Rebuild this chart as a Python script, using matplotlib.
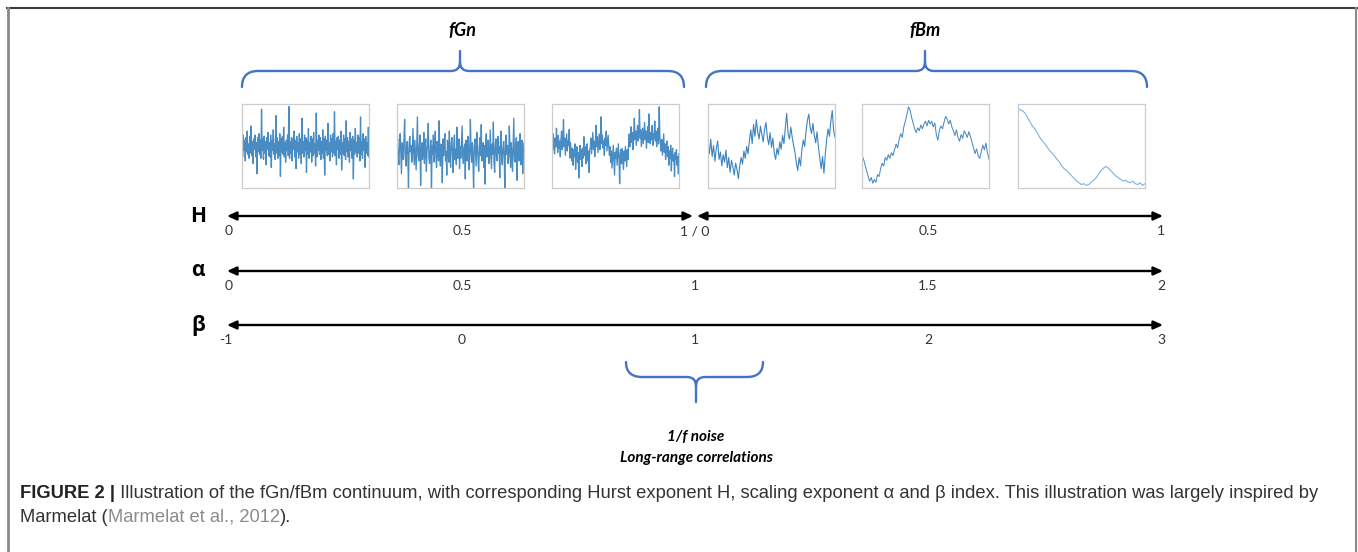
import numpy as np
import matplotlib
matplotlib.use('Agg')
import matplotlib.pyplot as plt
from matplotlib.path import Path
from matplotlib.patches import PathPatch

# Series shown in the six small panels
fgn_low = [0.6, -0.8, 0.9, -0.3, 0.5, -1.1, 0.7, -0.4, 1.2, -0.6, 0.2, -0.9, 0.8, -0.5, 1.6, -0.7, 0.4, -1.3, 0.6, -0.2,
           0.9, -0.8, 0.3, -2.1, 0.7, -0.4, 1.0, -0.6, 0.5, -0.9, 2.9, -0.3, 0.6, -1.0, 0.8, -0.5, 0.4, -1.4, 0.7, -0.2,
           1.1, -0.7, 0.3, -0.8, 0.9, -1.6, 0.5, -0.3, 1.3, -0.6, 0.2, -1.0, 2.4, -0.5, 0.7, -0.9, 0.4, -0.7, 1.0, -2.3,
           0.6, -0.4, 0.8, -0.6, 1.5, -0.8, 0.3, -1.2, 0.5, -0.3, 0.9, -0.7, 3.1, -0.9, 0.4, -0.5, 0.7, -1.1, 0.6, -0.2,
           1.2, -0.8, 0.5, -1.7, 0.8, -0.4, 0.3, -0.9, 1.0, -0.6, 0.6, -1.3, 2.2, -0.5, 0.4, -0.8, 0.9, -0.3, 0.7, -2.0,
           0.5, -0.6, 1.4, -0.9, 0.3, -0.4, 0.8, -1.2, 0.6, -0.7, 1.1, -0.5, 0.2, -1.5, 2.6, -0.8, 0.5, -0.3, 0.9, -0.6,
           0.7, -1.0, 0.4, -0.5, 1.3, -0.9, 0.6, -2.2, 0.8, -0.3, 0.5, -0.7, 1.8, -0.6, 0.3, -1.1, 0.9, -0.4, 0.6, -0.8,
           1.0, -0.5, 2.7, -0.7, 0.4, -1.4, 0.7, -0.2, 0.8, -0.9, 0.5, -0.6, 1.2, -1.8, 0.3, -0.5, 0.9, -0.7, 0.6, -1.0,
           2.0, -0.4, 0.7, -0.8, 0.4, -1.2, 1.1, -0.3, 0.6, -0.9, 0.8, -2.5, 0.5, -0.6, 1.4, -0.4, 0.3, -0.8, 0.9, -0.5,
           0.7, -1.1, 2.3, -0.6, 0.4, -0.9, 1.0, -0.3, 0.6, -1.6, 0.8, -0.5, 0.3, -0.7, 1.5, -0.8]
fgn_mid = [0.3, 0.9, -0.5, -1.1, 0.4, 1.3, -0.2, -1.8, 0.6, 0.1, -0.7, 1.0, 2.4, -0.4, -1.2, 0.2, 0.7, -0.5, -2.9, 0.5,
           1.1, -0.1, 0.4, -0.9, -0.6, 1.7, 0.2, -1.1, 0.8, -0.3, -1.5, 0.5, 2.6, -0.4, -0.8, 0.3, 1.2, -2.7, 0.1, 0.6,
           -0.7, -0.2, 1.4, -1.0, 0.3, 0.9, -1.6, -0.1, 0.5, 2.1, -0.6, -1.0, 0.1, 0.8, -3.2, 0.4, -0.3, 1.2, -0.9, 0.2,
           1.5, -0.5, -1.3, 0.7, 0.3, -0.8, 2.3, -0.3, -1.2, 0.5, 0.0, -2.5, 0.9, -0.4, 0.6, 1.3, -0.8, -0.1, -1.9, 0.8,
           0.3, -0.9, 1.5, -0.5, -1.3, 0.6, 1.0, -0.2, -1.7, 0.4, 1.2, -0.7, 0.1, -1.1, 1.8, -0.6, -0.3, 0.9, -1.4, 0.3,
           -0.6, 0.7, 1.9, -0.4, -1.0, 0.2, 0.5, -2.2, 0.8, -0.1, -0.8, 1.1, 0.4, -1.5, -0.3, 2.4, 0.1, -0.9, 0.6, -0.5,
           -3.0, 0.3, 0.9, -0.2, -1.2, 1.4, 0.5, -0.7, -1.6, 0.2, 1.0, -0.4, 2.0, -0.8, -0.2, 0.6, -1.3, 0.4, -2.6, 0.7,
           1.3, -0.5, -0.1, 0.8, -1.0, -0.6, 1.6, 0.2, -1.4, 0.5, -0.3, 2.2, -0.9, -1.7, 0.4, 0.9, -0.4, -0.8, 1.1, -0.2,
           0.3, -2.1, 0.6, 1.5, -0.6, -1.1, 0.2, 0.7, -0.5, -3.1, 0.8, 1.2, -0.3, 0.4, -1.0, -0.5, 1.9, 0.1, -1.3, 0.6,
           -0.2, -1.6, 0.5, 2.5, -0.7, -0.9, 0.3, 1.0, -2.3, 0.2, 0.7, -0.8, -0.1, 1.3, -1.1, 0.4, 0.8, -1.8, 0.0, 0.6]
fgn_high = [0.9, 0.2, 1.3, 0.5, -0.1, 1.0, 0.4, 1.7, 0.6, 0.0, 1.2, 0.3, 0.8, -0.3, 0.9, 1.5, 0.2, 0.7, 2.3, 0.4,
            1.0, -0.2, 0.6, 1.3, 0.1, 0.8, 0.5, 1.6, -0.4, 0.7,
            0.1, -0.6, 0.3, -0.9, 0.2, -0.3, 0.6, -1.2, -0.1, 0.4, -0.7, 0.0, -1.8, -0.2, 0.5, -0.5, 0.2, -1.0, 0.3, -0.4,
            1.1, -0.2, 0.4, -0.8, -0.3, 0.6, -0.6, 0.1, -1.4, 0.2,
            0.3, 1.0, -0.1, 0.6, 1.4, 0.2, 0.8, -0.3, 0.5, 1.9, 0.4, 1.1, 0.0, 0.7, 1.3, 0.2, 0.9, 2.5, 0.6, 1.2,
            0.3, 0.8, -0.2, 1.0, 0.5, 1.5, 0.1, 0.7, 1.2, 0.4,
            -0.2, 0.4, -0.7, 0.1, -1.1, -0.3, 0.5, -0.6, -1.6, 0.0, -0.4, 0.3, -0.9, -0.2, 0.6, -0.5, -2.2, -0.1, 0.2, -0.8,
            0.3, -0.4, -1.2, 0.1, -0.6, 0.4, -0.3, -1.0, 0.2, -0.5,
            0.6, 1.3, 0.4, 1.0, 1.8, 0.7, 1.4, 0.2, 1.1, 2.4, 0.9, 1.5, 0.5, 1.2, 1.9, 0.8, 1.3, 3.0, 1.0, 1.6,
            0.4, 1.1, 1.7, 0.6, 1.4, 2.1, 0.9, 1.5, 0.3, 1.2, 1.8, 0.7, 2.7, 1.1, 0.6, 1.4, 0.9, 1.9, 0.5, 1.3,
            1.0, 2.2, 0.8, 1.5, 0.4, 1.2, 1.7, 0.6, 3.2, 1.1,
            0.7, 0.1, 0.9, -0.2, 0.5, 1.3, 0.0, 0.6, -0.5, 0.3, 0.8, -0.3, 0.4, -0.9, 0.1, -0.4, 0.5, -1.3, -0.1, 0.3,
            -0.6, -0.2, -1.7, 0.0, -0.5, 0.2, -0.9, -0.3, -1.5, -0.1]
fbm_low = [5.5, 4.2, 5.8, 3.9, 5.1, 3.4, 4.8, 5.6, 3.6, 4.4, 2.9, 4.1, 3.3, 4.6, 2.7, 3.8,
           2.2, 3.5, 2.8, 1.9, 3.2, 2.5, 1.5, 2.9, 3.8, 3.1, 4.5, 3.7, 5.0, 4.2, 5.6, 6.8,
           5.3, 7.4, 6.1, 7.9, 6.6, 5.8, 7.2, 6.3, 5.5, 6.9, 7.6, 6.0, 5.2, 6.5, 4.9, 5.9,
           4.3, 3.6, 4.8, 4.1, 5.5, 4.7, 6.2, 5.3, 7.0, 8.6, 6.4, 5.8, 7.1, 6.0, 5.1, 4.4,
           3.2, 2.4, 3.8, 2.9, 4.6, 5.7, 5.0, 6.6, 7.8, 8.5, 7.1, 6.4, 7.5, 6.2, 5.4, 6.6,
           4.9, 3.7, 2.6, 3.9, 2.1, 4.2, 5.8, 6.9, 6.1, 7.7, 8.9, 6.7, 6.0]
fbm_mid = [4.2, 3.8, 3.2, 2.6, 2.0, 1.5, 1.9, 1.3, 1.7, 1.4, 2.2, 2.0, 2.8, 3.4, 3.1, 4.0,
           3.7, 4.3, 3.9, 4.5, 4.2, 4.8, 5.4, 5.0, 5.9, 6.5, 6.1, 7.2, 7.8, 8.5, 9.3, 9.0,
           8.2, 7.6, 7.0, 6.6, 7.1, 6.8, 7.4, 7.0, 7.5, 7.8, 7.3, 7.9, 7.5, 7.8, 7.2, 7.6,
           6.4, 5.8, 6.9, 7.3, 7.0, 7.7, 8.3, 8.0, 7.5, 7.9, 7.2, 6.8, 6.3, 6.9, 6.1, 5.7,
           6.4, 6.0, 6.8, 6.5, 6.1, 6.7, 6.2, 5.6, 5.0, 4.4, 4.9, 4.2, 3.9, 4.6, 5.3, 4.8,
           5.5, 4.5, 3.8]
fbm_high = [9.4, 9.2, 9.1, 8.8, 8.3, 7.8, 7.3, 7.0, 6.5, 6.0, 5.6, 5.3, 4.9, 4.5, 4.2, 3.9,
            3.5, 3.2, 2.7, 2.4, 2.2, 1.9, 1.6, 1.3, 1.0, 0.8, 0.6, 0.7, 0.5, 0.6, 0.9, 1.1,
            1.4, 1.8, 2.2, 2.5, 2.7, 2.5, 2.2, 1.9, 1.6, 1.4, 1.2, 1.0, 1.1, 0.9, 0.8, 1.0,
            0.7, 0.6, 0.8, 0.5, 0.7]

# Scales along the continuum (positions given in alpha units)
alpha_vals = [0, 0.5, 1, 1.5, 2]
H_labels = ['0', '0.5', '1 / 0', '0.5', '1']
alpha_labels = ['0', '0.5', '1', '1.5', '2']
beta_labels = ['-1', '0', '1', '2', '3']

W, Hpx = 1358, 552
fig = plt.figure(figsize=(W / 100, Hpx / 100), dpi=100)
ax = fig.add_axes([0, 0, 1, 1])
ax.set_xlim(0, W)
ax.set_ylim(Hpx, 0)
ax.axis('off')

blue = '#4472c4'
lato = ['Lato', 'DejaVu Sans']

# outer frame (top, left, right)
ax.plot([7, W], [8, 8], color='#3c3c3c', lw=1.5)
ax.plot([7.5, 7.5], [8, Hpx], color='#8a8a8a', lw=2)
ax.plot([1355.5, 1355.5], [8, Hpx], color='#8a8a8a', lw=1.5)


def brace(x0, x1, xc, y_end, y_bar, y_tip):
    s = np.sign(y_end - y_bar)
    r = 16
    verts = [(x0, y_end), (x0, y_bar), (x0 + r, y_bar),
             (xc - 9, y_bar), (xc, y_bar), (xc, y_bar - s * 9), (xc, y_tip),
             (xc, y_bar - s * 9), (xc, y_bar), (xc + 9, y_bar),
             (x1 - r, y_bar), (x1, y_bar), (x1, y_end)]
    codes = [Path.MOVETO, Path.CURVE3, Path.CURVE3,
             Path.LINETO, Path.CURVE3, Path.CURVE3, Path.LINETO,
             Path.MOVETO, Path.CURVE3, Path.CURVE3,
             Path.LINETO, Path.CURVE3, Path.CURVE3]
    ax.add_patch(PathPatch(Path(verts, codes), fill=False, edgecolor=blue, lw=1.7,
                           capstyle='round', joinstyle='round'))


brace(242, 684, 460, 87, 71, 51)
brace(706, 1147, 925, 87, 71, 51)
brace(626, 763, 696, 362, 377, 402)

ax.text(462, 31, 'fGn', ha='center', va='center', fontsize=13, fontweight='bold',
        fontstyle='italic', family=lato)
ax.text(925, 31, 'fBm', ha='center', va='center', fontsize=13, fontweight='bold',
        fontstyle='italic', family=lato)
ax.text(696, 437, '1/f noise', ha='center', va='center', fontsize=11, fontweight='bold',
        fontstyle='italic', family=lato)
ax.text(696, 458, 'Long-range correlations', ha='center', va='center', fontsize=11,
        fontweight='bold', fontstyle='italic', family=lato)

# small signal panels
series = [fgn_low, fgn_mid, fgn_high, fbm_low, fbm_mid, fbm_high]
ylims = [(-3.2, 3.3), (-2.9, 3.6), (-2.5, 3.4), (0.5, 9.6), (0.8, 9.6), (0.2, 9.9)]
widths = [0.95, 0.95, 0.95, 0.8, 0.75, 0.8]
alphas = [0.8, 0.8, 0.8, 0.85, 0.8, 0.55]
lefts = [242, 397, 552, 708, 862, 1018]
for vals, yl, lw_, al, left in zip(series, ylims, widths, alphas, lefts):
    pax = fig.add_axes([left / W, 1 - 188 / Hpx, 127 / W, 84 / Hpx])
    pax.plot(np.arange(len(vals)), vals, color='#1a6fb5', lw=lw_, alpha=al)
    pax.set_xlim(0, len(vals) - 1)
    pax.set_ylim(*yl)
    pax.set_xticks([])
    pax.set_yticks([])
    for sp in pax.spines.values():
        sp.set_color('#cccccc')
        sp.set_linewidth(0.9)


def ax_x(a):
    return 229 + 466 * a


arrow = dict(arrowstyle='<|-|>,head_length=0.55,head_width=0.25', color='black', lw=1.7,
             shrinkA=0, shrinkB=0)
rows = [(216, 'H', H_labels), (271, 'α', alpha_labels), (325, 'β', beta_labels)]
for y, name, labels in rows:
    if name == 'H':
        ax.annotate('', xy=(ax_x(1) - 2, y), xytext=(ax_x(0) - 2, y), arrowprops=arrow)
        ax.annotate('', xy=(ax_x(2) + 2, y), xytext=(ax_x(1) + 2, y), arrowprops=arrow)
    else:
        ax.annotate('', xy=(ax_x(2) + 2, y), xytext=(ax_x(0) - 2, y), arrowprops=arrow)
    ax.text(198, y, name, ha='center', va='center', fontsize=15, fontweight='bold',
            family=['Open Sans', 'DejaVu Sans'])
    for a, lab in zip(alpha_vals, labels):
        ax.text(ax_x(a) - (3 if lab == '-1' else 0), y + 15, lab, ha='center', va='center',
                fontsize=10, color='#333333', family=lato)

# caption
fs = 13.2
cap = dict(fontsize=fs, family='Liberation Sans', va='baseline')
t = ax.text(20, 498, 'FIGURE 2 |', fontweight='bold', color='#222222', **cap)
ax.annotate(' Illustration of the fGn/fBm continuum, with corresponding Hurst exponent H, '
            'scaling exponent α and β index. This illustration was largely inspired by',
            xycoords=t, xy=(1, 0), ha='left', va='bottom', color='#333333',
            fontsize=fs, family='Liberation Sans')
t2 = ax.text(20, 522, 'Marmelat (', color='#333333', **cap)
t3 = ax.annotate('Marmelat et al., 2012', xycoords=t2, xy=(1, 0), ha='left', va='bottom',
                 color='#8c8c8c', fontsize=fs, family='Liberation Sans')
ax.annotate(').', xycoords=t3, xy=(1, 0), ha='left', va='bottom', color='#333333',
            fontsize=fs, family='Liberation Sans')

fig.savefig('out.png', dpi=100)
